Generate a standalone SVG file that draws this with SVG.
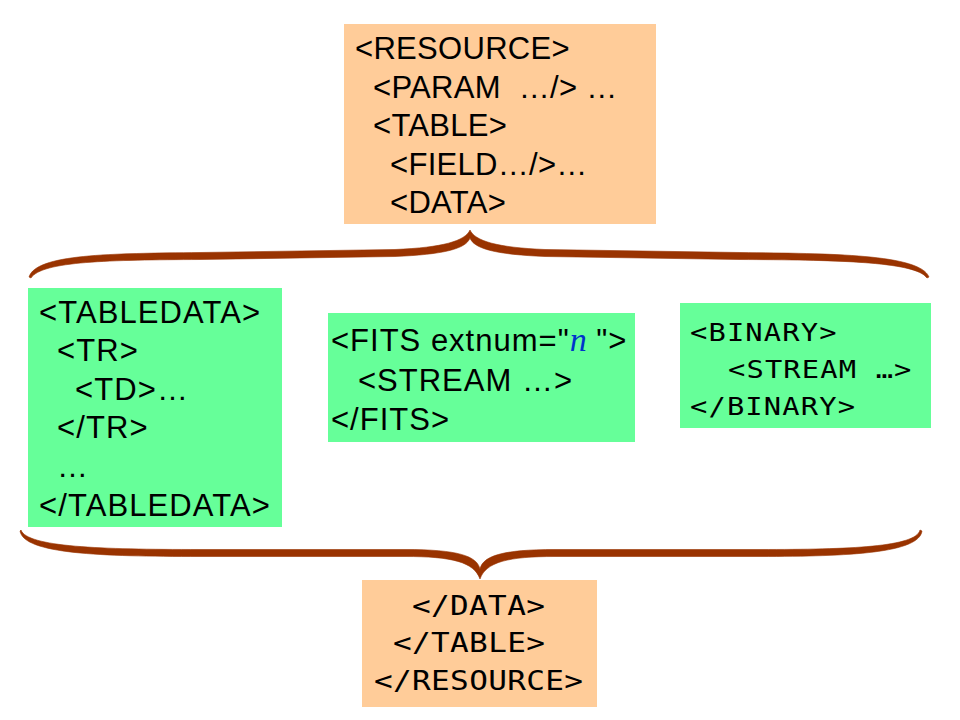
<svg xmlns="http://www.w3.org/2000/svg" width="960" height="720" viewBox="0 0 960 720">
<style>
.peach{fill:#FFCC99}
.green{fill:#66FF99}
.sans{font-family:"Liberation Sans",Arial,sans-serif;font-size:31px;fill:#000;letter-spacing:0.3px;white-space:pre}
.wide{letter-spacing:1.1px}
.fits{font-family:"Liberation Sans",Arial,sans-serif;font-size:31px;fill:#000;letter-spacing:1px;white-space:pre}
.mono{font-family:"DejaVu Sans Mono",monospace;font-size:25px;fill:#000;letter-spacing:1px;white-space:pre}
.mono2{font-family:"DejaVu Sans Mono",monospace;font-size:27px;fill:#000;letter-spacing:0.3px;white-space:pre}
.ital{font-family:"Liberation Serif","Times New Roman",serif;font-style:italic;font-size:34px;fill:#0033CC}
.brace{fill:#993300;stroke:#993300;stroke-width:0.6;stroke-linejoin:round}
</style>
<rect width="960" height="720" fill="#fff"/>
<g id="resource">
<rect class="peach" x="344" y="24" width="312" height="200"/>
<text class="sans" x="355" y="59">&lt;RESOURCE&gt;</text>
<text class="sans" x="373" y="98">&lt;PARAM  …/&gt; …</text>
<text class="sans" x="373" y="136">&lt;TABLE&gt;</text>
<text class="sans" x="390" y="175">&lt;FIELD…/&gt;…</text>
<text class="sans" x="390" y="213">&lt;DATA&gt;</text>
</g>
<g id="tabledata">
<rect class="green" x="28" y="288" width="254" height="239"/>
<text class="sans wide" x="39" y="323">&lt;TABLEDATA&gt;</text>
<text class="sans wide" x="57" y="361">&lt;TR&gt;</text>
<text class="sans wide" x="75" y="400">&lt;TD&gt;…</text>
<text class="sans wide" x="57" y="438">&lt;/TR&gt;</text>
<text class="sans wide" x="57" y="477">…</text>
<text class="sans wide" x="39" y="516">&lt;/TABLEDATA&gt;</text>
</g>
<g id="fits">
<rect class="green" x="328" y="313" width="307" height="129"/>
<text class="fits" x="331" y="351">&lt;FITS extnum="<tspan class="ital" letter-spacing="0">n</tspan> "&gt;</text>
<text class="fits" x="358" y="391">&lt;STREAM …&gt;</text>
<text class="fits" x="331" y="430">&lt;/FITS&gt;</text>
</g>
<g id="binary">
<rect class="green" x="680" y="303" width="251" height="125"/>
<text class="mono" transform="translate(690,341) scale(1.15,1)">&lt;BINARY&gt;</text>
<text class="mono" transform="translate(728,378) scale(1.15,1)">&lt;STREAM …&gt;</text>
<text class="mono" transform="translate(690,415) scale(1.15,1)">&lt;/BINARY&gt;</text>
</g>
<g id="closing">
<rect class="peach" x="362" y="580" width="235" height="127"/>
<text class="mono2" transform="translate(412,615) scale(1.15,1)">&lt;/DATA&gt;</text>
<text class="mono2" transform="translate(393,652) scale(1.15,1)">&lt;/TABLE&gt;</text>
<text class="mono2" transform="translate(374,690) scale(1.15,1)">&lt;/RESOURCE&gt;</text>
</g>
<g id="connectors">
<path class="brace" d="M29,277 C36,254 110,253.5 200,252.5 L395,249.5 C443,247.5 465,241 470,230 C475,241 497,247.5 545,249.5 L740,252.5 C830,253.5 920,254 929,277 L927,278 C916,261 830,260 740,259.5 L545,256.5 C497,254.5 474,249 470,238 C466,249 443,254.5 395,256.5 L200,259.5 C110,260 42,261 31,278 Z"/>
<path class="brace" d="M21,530 C27,547 100,549.5 200,549.5 L405,549.5 C458,549.5 477,556 480,569 C483,556 502,549.5 555,549.5 L760,549.5 C850,549.5 916,547 920,530 L922,531 C919,553 850,556.5 760,556.5 L555,556.5 C508,556.5 486,562 480,579 C474,562 452,556.5 405,556.5 L200,556.5 C100,556.5 24,554 20,531 Z"/>
</g>
</svg>
